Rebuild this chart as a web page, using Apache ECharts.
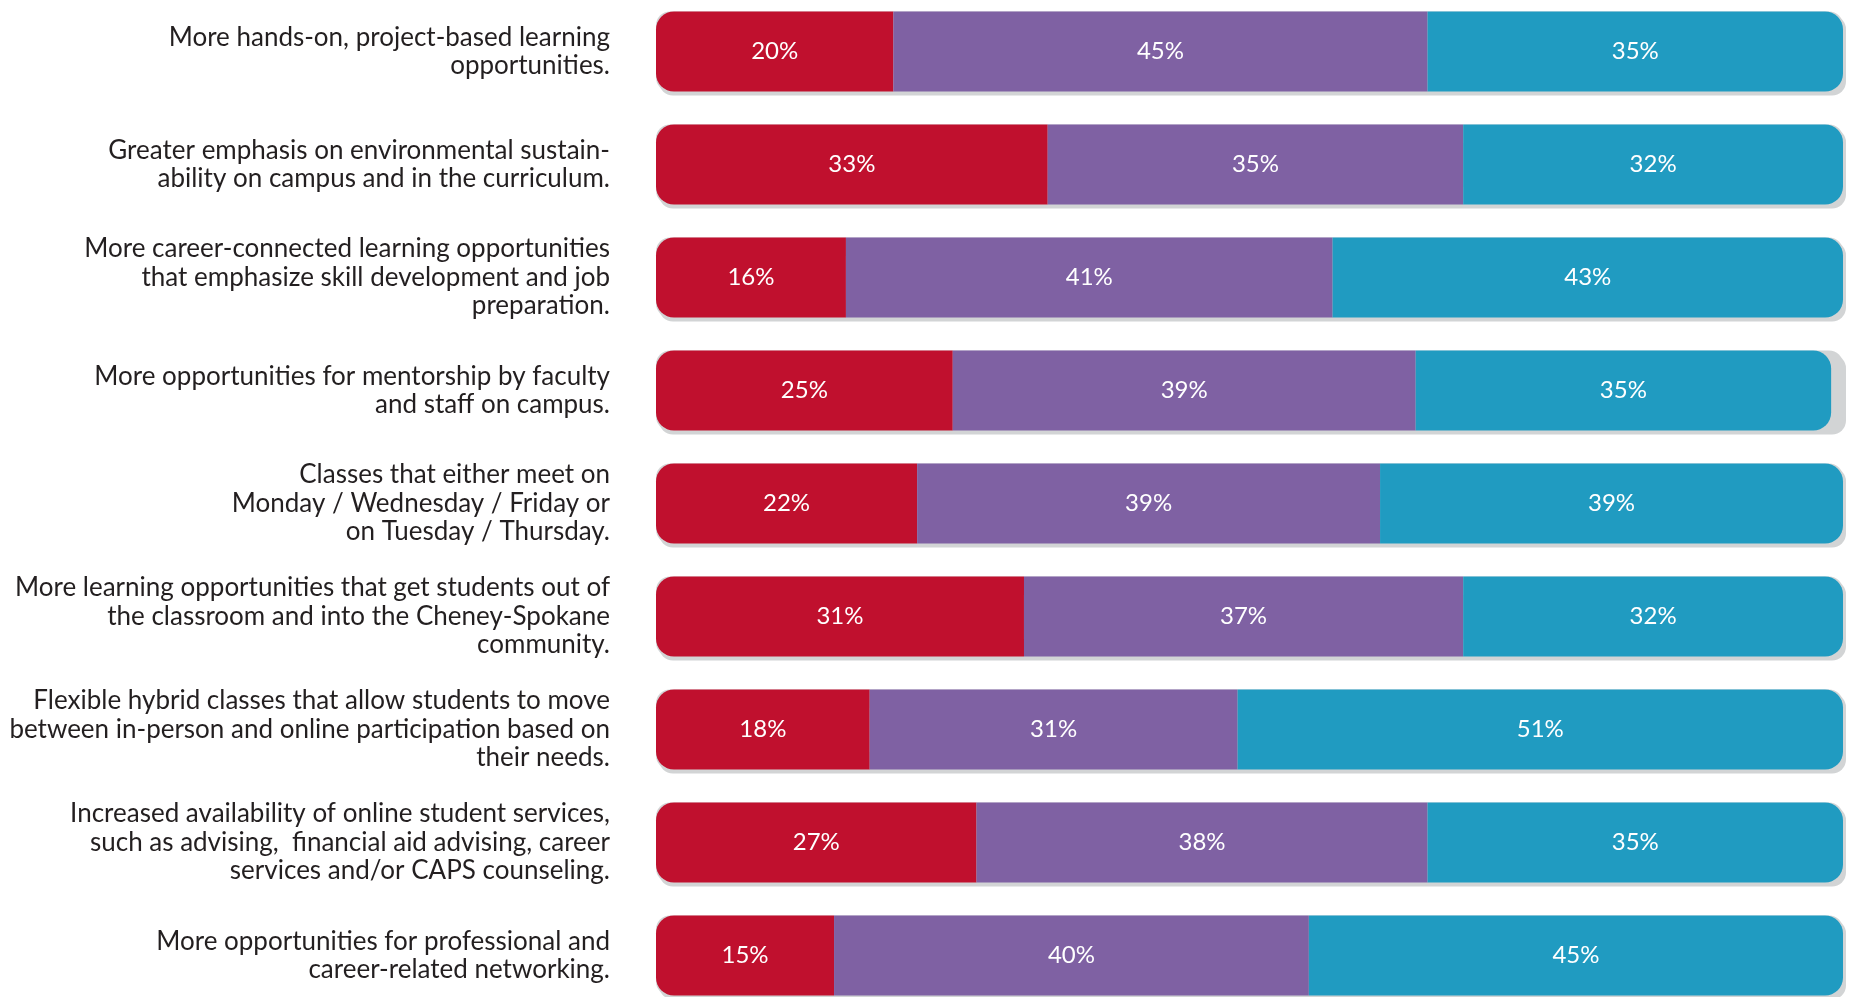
<!DOCTYPE html>
<html>
<head>
<meta charset="utf-8">
<script src="https://cdn.jsdelivr.net/npm/echarts@6/dist/echarts.min.js"></script>
<style>
html,body{margin:0;padding:0;background:#fff;}
#chart{width:1849px;height:997px;}
</style>
</head>
<body>
<div id="chart"></div>
<script>
const categories = [
  "More hands-on, project-based learning\nopportunities.",
  "Greater emphasis on environmental sustain-\nability on campus and in the curriculum.",
  "More career-connected learning opportunities\nthat emphasize skill development and job\npreparation.",
  "More opportunities for mentorship by faculty\nand staff on campus.",
  "Classes that either meet on\nMonday / Wednesday / Friday or\non Tuesday / Thursday.",
  "More learning opportunities that get students out of\nthe classroom and into the Cheney-Spokane\ncommunity.",
  "Flexible hybrid classes that allow students to move\nbetween in-person and online participation based on\ntheir needs.",
  "Increased availability of online student services,\nsuch as advising,  financial aid advising, career\nservices and/or CAPS counseling.",
  "More opportunities for professional and\ncareer-related networking."
];
const redValues    = [20, 33, 16, 25, 22, 31, 18, 27, 15];
const purpleValues = [45, 35, 41, 39, 39, 37, 31, 38, 40];
const tealValues   = [35, 32, 43, 35, 39, 32, 51, 35, 45];

const chart = echarts.init(document.getElementById('chart'), null, {renderer: 'canvas'});
const labelStyle = {
  show: true,
  position: 'inside',
  color: '#ffffff',
  fontSize: 24,
  fontFamily: 'Lato',
  formatter: '{c}%'
};
chart.setOption({
  animation: false,
  backgroundColor: '#ffffff',
  grid: {left: 656, right: 6, top: -5, bottom: -15, outerBoundsMode: 'none', containLabel: false},
  xAxis: {
    type: 'value', min: 0, max: 100, show: false
  },
  yAxis: {
    type: 'category',
    inverse: true,
    data: categories,
    axisLine: {show: false},
    axisTick: {show: false},
    splitLine: {show: false},
    axisLabel: {
      margin: 46,
      fontSize: 26,
      lineHeight: 28.5,
      color: '#231f20',
      fontFamily: 'Lato'
    }
  },
  series: [
    {
      type: 'bar', stack: 'a', barWidth: 80, data: redValues,
      itemStyle: {color: '#c0102e', borderRadius: [18, 0, 0, 18]},
      showBackground: true,
      backgroundStyle: {
        color: '#d2d4d5', borderRadius: 14,
        shadowColor: '#d2d4d5', shadowOffsetX: 3, shadowOffsetY: 4, shadowBlur: 0
      },
      label: labelStyle
    },
    {
      type: 'bar', stack: 'a', barWidth: 80, data: purpleValues,
      itemStyle: {color: '#7f61a3'},
      label: labelStyle
    },
    {
      type: 'bar', stack: 'a', barWidth: 80, data: tealValues,
      itemStyle: {color: '#209bc1', borderRadius: [0, 18, 18, 0]},
      label: labelStyle
    }
  ]
});
</script>
</body>
</html>
